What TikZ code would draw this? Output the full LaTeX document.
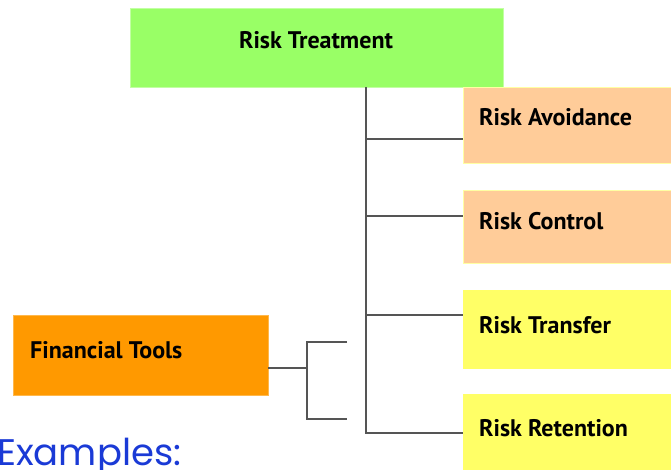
\documentclass[tikz,border=0pt]{standalone}
\usepackage{fontspec}
\setmainfont{PT Sans}
\newfontfamily\examplesfont{Poppins}
\usetikzlibrary{positioning}
\definecolor{rtgreen}{HTML}{99FF66}
\definecolor{rtpeach}{HTML}{FFCC99}
\definecolor{rtyellow}{HTML}{FFFF66}
\definecolor{rtorange}{HTML}{FF9900}
\definecolor{rtblue}{HTML}{1A3AD6}
\definecolor{rtline}{HTML}{555555}

\begin{document}
\begin{tikzpicture}[x=1pt, y=-1pt,
    every node/.style={font=\bfseries\fontsize{24}{28}\selectfont},
    box/.style={rectangle, inner sep=0pt, anchor=north west, minimum width=230pt},
    lbl/.style={anchor=base west, inner sep=0pt},
    conn/.style={rtline, line width=1.8pt}]
      \useasboundingbox (0,0) rectangle (671,469);
      \clip (0,0) rectangle (671,469);

      % Main box
      \node[box, fill=rtgreen, draw=rtgreen!60!white, minimum width=373pt, minimum height=79pt] (treat) at (130,8) {};
      \node[anchor=base, inner sep=0pt] (treattxt) at (316,48) {Risk Treatment};

      % Treatment options
      \node[box, fill=rtpeach, draw=rtyellow!60!white, minimum height=76pt] (avoid) at (463,87) {};
      \node[box, fill=rtpeach, draw=rtyellow!60!white, minimum height=73pt] (control) at (463,190) {};
      \node[box, fill=rtyellow, minimum height=79pt] (transfer) at (463,290) {};
      \node[box, fill=rtyellow, minimum height=80pt] (retain) at (463,394) {};
      \node[lbl] (avoidtxt) at (479,125) {Risk Avoidance};
      \node[lbl] (controltxt) at (479,229) {Risk Control};
      \node[lbl] (transfertxt) at (479,333) {Risk Transfer};
      \node[lbl] (retaintxt) at (479,436) {Risk Retention};

      % Financial tools
      \node[box, fill=rtorange, draw=rtorange!70!white, minimum width=255pt, minimum height=80pt] (fin) at (13,315) {};
      \node[lbl] (fintxt) at (30,358) {Financial Tools};

      % Trunk and branches
      \coordinate (trunktop) at (366,87);
      \draw[conn] (trunktop) |- (retain.west |- 0,433);
      \draw[conn] (trunktop |- 0,139) -- (avoid.west |- 0,139);
      \draw[conn] (trunktop |- 0,216) -- (control.west |- 0,216);
      \draw[conn] (trunktop |- 0,315) -- (transfer.west |- 0,315);

      % Bracket
      \coordinate (fork) at (307,368);
      \coordinate (stubup) at (347,342);
      \coordinate (stubdown) at (347,419);
      \draw[conn] (fin.east |- fork) -- (fork);
      \draw[conn] (stubup) -| (fork) |- (stubdown);

      % Caption
      \node[anchor=base west, inner sep=0pt, text=rtblue, font=\examplesfont\fontsize{37}{42}\selectfont] (examples) at (-3,465) {Examples:};
    \end{tikzpicture}
\end{document}
